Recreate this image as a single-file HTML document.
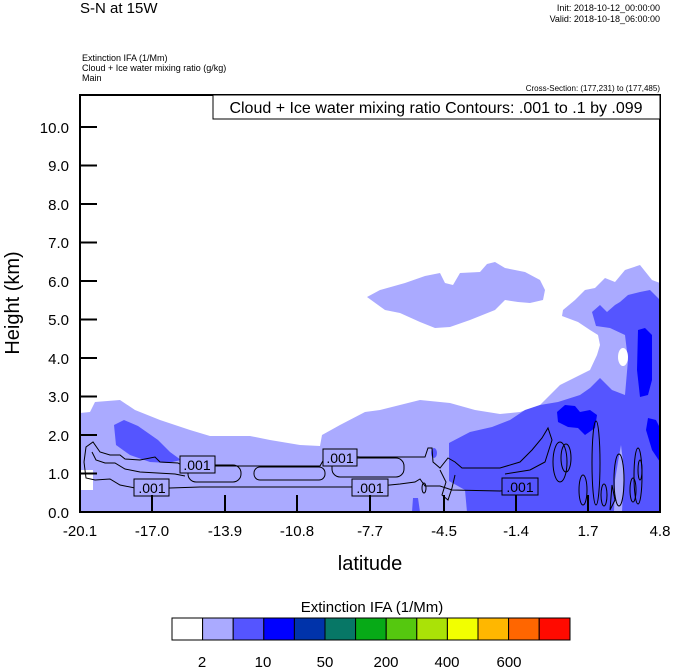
<!DOCTYPE html>
<html><head><meta charset="utf-8"><style>
body{margin:0;background:#fff;}
svg{display:block;font-family:"Liberation Sans",Arial,sans-serif;}
</style></head><body>
<svg width="674" height="668" viewBox="0 0 674 668" xmlns="http://www.w3.org/2000/svg">
<rect width="674" height="668" fill="#fff"/>
<text x="80" y="13" font-size="15">S-N at 15W</text>
<text x="660" y="11" font-size="9" text-anchor="end">Init: 2018-10-12_00:00:00</text>
<text x="660" y="22" font-size="9" text-anchor="end">Valid: 2018-10-18_06:00:00</text>
<text x="82" y="61" font-size="9">Extinction IFA   (1/Mm)</text>
<text x="82" y="71" font-size="9">Cloud + Ice water mixing ratio   (g/kg)</text>
<text x="82" y="81" font-size="9">Main</text>
<text x="660" y="91" font-size="8" text-anchor="end">Cross-Section: (177,231) to (177,485)</text>

<g>
<!-- upper cloud -->
<path fill="#aaaaff" d="M367,297 L380,290 L405,283 L425,276 L440,273 L445,283 L453,285 L460,273 L480,272 L487,264 L495,262 L505,268 L525,272 L540,280 L545,290 L543,300 L530,303 L518,302 L505,300 L495,310 L470,320 L450,327 L435,328 L420,322 L400,313 L385,310 Z"/>
<!-- lower/right light region -->
<path fill="#aaaaff" d="M80,512 L80,490 L93,490 L93,470 L80,470 L80,413 L90,412 L95,402 L120,400 L135,410 L160,420 L190,430 L210,436 L250,436 L270,440 L300,445 L320,446 L322,435 L340,425 L365,412 L380,410 L400,405 L420,400 L450,403 L475,410 L500,414 L520,412 L540,405 L550,395 L560,385 L580,375 L590,370 L597,355 L600,345 L598,335 L590,330 L578,322 L562,316 L563,310 L575,300 L585,290 L595,288 L605,278 L615,282 L625,270 L640,265 L652,280 L660,283 L660,512 Z"/>
<!-- medium blue -->
<path fill="#5555ff" d="M467,512 L465,490 L449,481 L449,443 L470,432 L492,427 L510,420 L525,410 L540,405 L558,402 L580,395 L590,388 L600,378 L612,390 L625,395 L628,360 L625,335 L610,328 L596,326 L592,312 L600,305 L607,312 L615,305 L620,302 L628,295 L640,292 L650,290 L660,300 L660,512 Z"/>
<path fill="#5555ff" d="M114,425 L124,420 L138,426 L158,440 L170,452 L181,460 L168,463 L150,462 L130,455 L116,445 Z"/>
<path fill="#5555ff" d="M412,512 L413,498 L418,498 L420,512 Z"/>
<ellipse cx="434" cy="453" rx="3" ry="5" fill="#5555ff"/>
<!-- white holes -->
<ellipse cx="623" cy="357" rx="5" ry="9" fill="#fff"/>
<ellipse cx="606" cy="355" rx="3" ry="8" fill="#aaaaff"/>
<!-- dark blue -->
<path fill="#0000ff" d="M557,412 L565,405 L575,406 L580,412 L590,410 L597,415 L595,428 L585,435 L578,428 L568,427 L558,422 Z"/>
<path fill="#0000ff" d="M638,330 L645,328 L652,335 L652,380 L648,395 L640,397 L637,370 Z"/>
<path fill="#0000ff" d="M648,418 L656,420 L660,428 L660,462 L652,450 L646,430 Z"/>
<!-- light patches inside -->
<path fill="#aaaaff" d="M615,480 L618,462 L621,445 L624,470 L622,512 L614,512 Z"/>
</g>

<!-- contours -->
<g fill="none" stroke="#000" stroke-width="1">
<path d="M84,462 L86,447 L93,442 L100,452 L110,455 L120,455 L125,459 L140,460 L155,457 L160,462 L178,463 L183,466 L320,466 L324,459 L332,455 L360,457 L425,457 L428,448 L432,448 L433,462 L440,468 L448,458 L455,462 L462,468 L500,468 L520,462 L532,450 L542,438 L548,428 L552,440 L545,462 L530,470 L505,474"/>
<path d="M84,462 L86,478 L95,480 L110,479 L120,485 L135,488 L150,489 L170,488 L200,487 L300,487 L350,487 L380,486 L400,484 L415,482 L420,479 L425,486 L440,486 L452,490 L500,491 L512,490"/>
<path d="M92,452 L96,460 L105,463 L115,463 L125,469 L140,472 L175,474 L185,476"/>
<rect x="188" y="465" width="53" height="17" rx="8"/>
<rect x="254" y="467" width="71" height="13" rx="6"/>
<rect x="332" y="458" width="72" height="19" rx="8"/>
<path d="M440,470 L446,482 L442,495 L448,500 L452,488 L455,475"/>
<ellipse cx="424" cy="488" rx="2" ry="5"/>
<ellipse cx="560" cy="462" rx="7" ry="20"/>
<ellipse cx="566" cy="458" rx="5" ry="14"/>
<ellipse cx="596" cy="463" rx="4" ry="42"/>
<ellipse cx="604" cy="495" rx="3" ry="11"/>
<ellipse cx="619" cy="480" rx="5" ry="26"/>
<ellipse cx="638" cy="476" rx="4" ry="28"/>
<ellipse cx="640" cy="470" rx="2" ry="10"/>
<ellipse cx="633" cy="490" rx="3" ry="12"/>
<path d="M610,510 L612,485 L615,500 Z"/>
<ellipse cx="583" cy="490" rx="4" ry="15"/>
</g>
<!-- labels -->
<g font-size="14" text-anchor="middle">
<rect x="180" y="456" width="35" height="17" fill="#aaaaff" stroke="#000"/><text x="197" y="470">.001</text>
<rect x="323" y="449" width="34" height="17" fill="#aaaaff" stroke="#000"/><text x="340" y="463">.001</text>
<rect x="134" y="479" width="35" height="17" fill="#aaaaff" stroke="#000"/><text x="152" y="493">.001</text>
<rect x="352" y="479" width="36" height="17" fill="#aaaaff" stroke="#000"/><text x="370" y="493">.001</text>
<rect x="502" y="478" width="36" height="17" fill="#5555ff" stroke="#000"/><text x="520" y="492">.001</text>
</g>

<!-- frame -->
<rect x="80" y="95" width="580" height="417" fill="none" stroke="#000" stroke-width="2"/>
<rect x="213" y="95" width="447" height="24" fill="#fff" stroke="#000" stroke-width="1"/>
<text x="436" y="113" font-size="16" text-anchor="middle">Cloud + Ice water mixing ratio Contours: .001 to .1 by .099</text>

<!-- y ticks -->
<g stroke="#000" stroke-width="2">
<line x1="80" y1="127" x2="97" y2="127"/><line x1="80" y1="165.5" x2="97" y2="165.5"/><line x1="80" y1="204" x2="97" y2="204"/><line x1="80" y1="242.5" x2="97" y2="242.5"/><line x1="80" y1="281" x2="97" y2="281"/><line x1="80" y1="319.5" x2="97" y2="319.5"/><line x1="80" y1="358" x2="97" y2="358"/><line x1="80" y1="396.5" x2="97" y2="396.5"/><line x1="80" y1="435" x2="97" y2="435"/><line x1="80" y1="473.5" x2="97" y2="473.5"/>
<line x1="152" y1="495" x2="152" y2="512"/><line x1="225" y1="495" x2="225" y2="512"/><line x1="297" y1="495" x2="297" y2="512"/><line x1="370" y1="495" x2="370" y2="512"/><line x1="444" y1="495" x2="444" y2="512"/><line x1="516" y1="495" x2="516" y2="512"/><line x1="588" y1="495" x2="588" y2="512"/>
</g>
<g font-size="15" text-anchor="end">
<text x="69" y="133">10.0</text><text x="69" y="171">9.0</text><text x="69" y="210">8.0</text><text x="69" y="248">7.0</text><text x="69" y="287">6.0</text><text x="69" y="325">5.0</text><text x="69" y="364">4.0</text><text x="69" y="402">3.0</text><text x="69" y="441">2.0</text><text x="69" y="479">1.0</text><text x="69" y="518">0.0</text>
</g>
<g font-size="15" text-anchor="middle">
<text x="80" y="536">-20.1</text><text x="152" y="536">-17.0</text><text x="225" y="536">-13.9</text><text x="297" y="536">-10.8</text><text x="370" y="536">-7.7</text><text x="444" y="536">-4.5</text><text x="516" y="536">-1.4</text><text x="588" y="536">1.7</text><text x="660" y="536">4.8</text>
</g>
<text x="370" y="570" font-size="20" text-anchor="middle">latitude</text>
<text transform="translate(19,303) rotate(-90)" font-size="20" text-anchor="middle">Height (km)</text>

<!-- colorbar -->
<text x="372" y="612" font-size="15" text-anchor="middle">Extinction IFA  (1/Mm)</text>
<g stroke="#000" stroke-width="1">
<rect x="172" y="618" width="30.6" height="22" fill="#ffffff"/>
<rect x="202.6" y="618" width="30.6" height="22" fill="#aaaaff"/>
<rect x="233.2" y="618" width="30.6" height="22" fill="#5555ff"/>
<rect x="263.8" y="618" width="30.6" height="22" fill="#0000ff"/>
<rect x="294.4" y="618" width="30.6" height="22" fill="#0033aa"/>
<rect x="325" y="618" width="30.6" height="22" fill="#077766"/>
<rect x="355.6" y="618" width="30.6" height="22" fill="#07aa17"/>
<rect x="386.2" y="618" width="30.6" height="22" fill="#55c80f"/>
<rect x="416.8" y="618" width="30.6" height="22" fill="#aae207"/>
<rect x="447.4" y="618" width="30.6" height="22" fill="#f2ff00"/>
<rect x="478" y="618" width="30.6" height="22" fill="#ffb700"/>
<rect x="508.6" y="618" width="30.6" height="22" fill="#ff6600"/>
<rect x="539.2" y="618" width="30.8" height="22" fill="#ff0a00"/>
</g>
<g font-size="15" text-anchor="middle">
<text x="202" y="667">2</text><text x="263" y="667">10</text><text x="325" y="667">50</text><text x="386" y="667">200</text><text x="447" y="667">400</text><text x="509" y="667">600</text>
</g>
</svg>
</body></html>
